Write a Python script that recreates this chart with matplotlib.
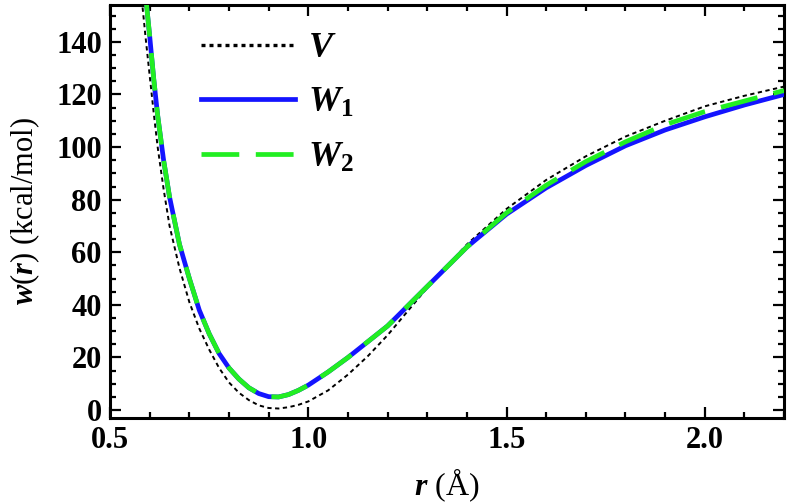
import numpy as np
import matplotlib
matplotlib.use('Agg')
import matplotlib.pyplot as plt
from matplotlib.ticker import MultipleLocator

plt.rcParams['font.family'] = ['Liberation Serif', 'DejaVu Serif']
plt.rcParams['font.weight'] = 'bold'
plt.rcParams['mathtext.fontset'] = 'custom'
plt.rcParams['mathtext.it'] = 'Liberation Serif:italic:bold'
plt.rcParams['mathtext.rm'] = 'Liberation Serif:bold'
plt.rcParams['mathtext.bf'] = 'Liberation Serif:bold'

# distances (Angstrom) and energies (kcal/mol)
r = [0.58, 0.59, 0.60, 0.61, 0.62, 0.635, 0.65, 0.675, 0.70, 0.725, 0.75, 0.775, 0.80,
     0.825, 0.85, 0.875, 0.90, 0.925, 0.95, 0.975, 1.00, 1.05, 1.10, 1.15, 1.20,
     1.30, 1.40, 1.50, 1.60, 1.70, 1.80, 1.90, 2.00, 2.10, 2.20]
V = [156, 141, 127, 113, 100, 84, 70, 54, 41, 31, 23, 16, 10.5,
     6.6, 3.8, 1.8, 0.8, 0.6, 1.1, 2.0, 3.3, 7.5, 13.5, 20.5, 28.5,
     46.5, 63, 76.5, 87.5, 96.5, 104, 110, 115.5, 119.5, 123]
W1 = [172, 157, 142, 126, 112, 95, 81, 63, 50, 38, 29, 21.5, 16,
      11.8, 8.5, 6.3, 5.1, 5.0, 5.9, 7.5, 9.5, 14.5, 20, 26, 32,
      47, 62, 74.5, 84.5, 93, 100.5, 106.5, 111.5, 116, 120]
W2 = [172, 157, 142, 126, 112, 95, 81, 63, 50, 38, 29, 21.5, 16,
      11.8, 8.5, 6.3, 5.1, 5.0, 5.9, 7.5, 9.5, 14.5, 20, 26, 32,
      47, 62, 75, 85.5, 94.5, 102, 108.5, 113.5, 117.5, 121.5]

fig = plt.figure(figsize=(7.92, 5.03), dpi=100)
ax = fig.add_axes([0.139, 0.169, 0.851, 0.821])

ax.plot(r, V, color='k', lw=1.4, ls=(0, (2.2, 1.8)), label='$V$', zorder=3)
ax.plot(r, W1, color='#1414ff', lw=3.4, label='$W_1$', zorder=4)
ax.plot(r, W2, color='#22ee22', lw=3.4, ls=(0, (8, 3.5)), label='$W_2$', zorder=5)

ax.set_xlim(0.5, 2.2)
ax.set_ylim(-3, 154)
ax.xaxis.set_major_locator(MultipleLocator(0.5))
ax.xaxis.set_minor_locator(MultipleLocator(0.1))
ax.yaxis.set_major_locator(MultipleLocator(20))
ax.yaxis.set_minor_locator(MultipleLocator(5))
ax.xaxis.set_major_formatter(matplotlib.ticker.FormatStrFormatter('%.1f'))
ax.tick_params(which='both', direction='in', top=True, right=True, width=1.6,
               labelsize=22, pad=6)
ax.tick_params(which='major', length=8)
ax.tick_params(which='minor', length=4)
for s in ax.spines.values():
    s.set_linewidth(2.2)

ax.set_xlabel(r'$r$ (Å)', fontsize=23, labelpad=8)
ax.set_ylabel(r'$w$($r$) (kcal/mol)', fontsize=22, labelpad=10)

leg = ax.legend(loc='upper left', bbox_to_anchor=(0.135, 0.935), frameon=False,
                fontsize=26, handlelength=2.6, handletextpad=0.35, labelspacing=0.6,
                borderpad=0, borderaxespad=0)
leg.get_lines()[0].set_linewidth(2.4)
leg.get_lines()[0].set_linestyle((0, (1.2, 1.2)))

fig.savefig('out.png', dpi=100)
